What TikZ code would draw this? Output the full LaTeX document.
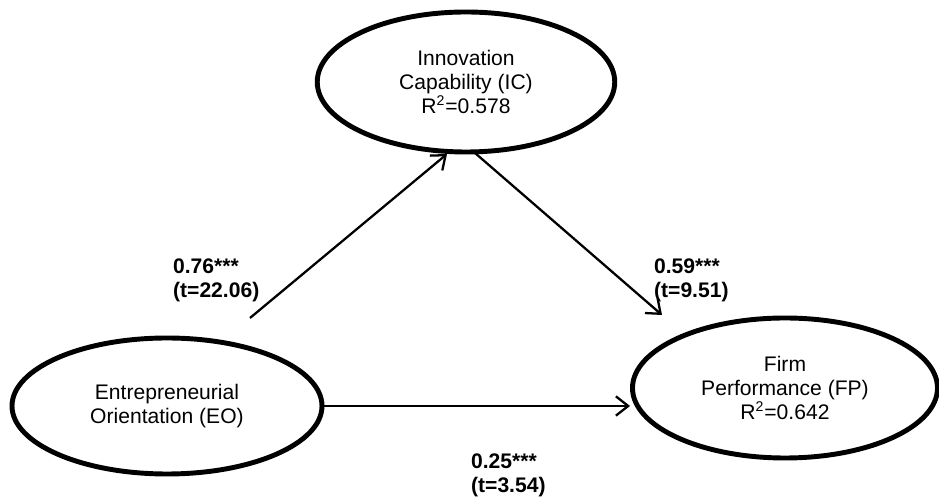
\documentclass[tikz,border=0pt]{standalone}
\usepackage{fontspec}
\setmainfont{Liberation Sans}
\usetikzlibrary{shapes.geometric, arrows.meta}

\begin{document}
\begin{tikzpicture}[line width=1.3pt, >={Straight Barb[length=7pt, width=11pt, line width=1.3pt]},
        construct/.style={ellipse, draw, line width=2.8pt, inner sep=0pt, align=center, font=\fontsize{12}{13.5}\selectfont},
        coef/.style={align=left, anchor=west, font=\fontsize{12}{13.5}\selectfont\bfseries, inner sep=0pt}]
        \useasboundingbox (0, 0) rectangle (18.78, 10.02);

        \node[construct, minimum width=5.95cm, minimum height=2.8cm] (ic) at (9.32, 8.38) {Innovation\\Capability (IC)\\R\textsuperscript{2}=0.578};
        \node[construct, minimum width=6.2cm, minimum height=2.72cm] (eo) at (3.34, 1.90) {Entrepreneurial\\Orientation (EO)};
        \node[construct, minimum width=6.1cm, minimum height=2.8cm] (fp) at (15.70, 2.26) {Firm\\Performance (FP)\\R\textsuperscript{2}=0.642};

        \coordinate (eoout) at (5.00, 3.66);
        \coordinate (icin) at (8.94, 6.94);
        \coordinate (icout) at (9.50, 6.96);
        \coordinate (fpin) at (13.24, 3.72);

        \draw[->] (eoout) -- (icin);
        \draw[->] (icout) -- (fpin);
        \draw[->] (eo.east) -- (fp.west |- eo.east);

        \node[coef] (b1) at (3.44, 4.42) {0.76***\\(t=22.06)};
        \node[coef] (b2) at (13.06, 4.42) {0.59***\\(t=9.51)};
        \node[coef] (b3) at (9.40, 0.52) {0.25***\\(t=3.54)};
\end{tikzpicture}
\end{document}
